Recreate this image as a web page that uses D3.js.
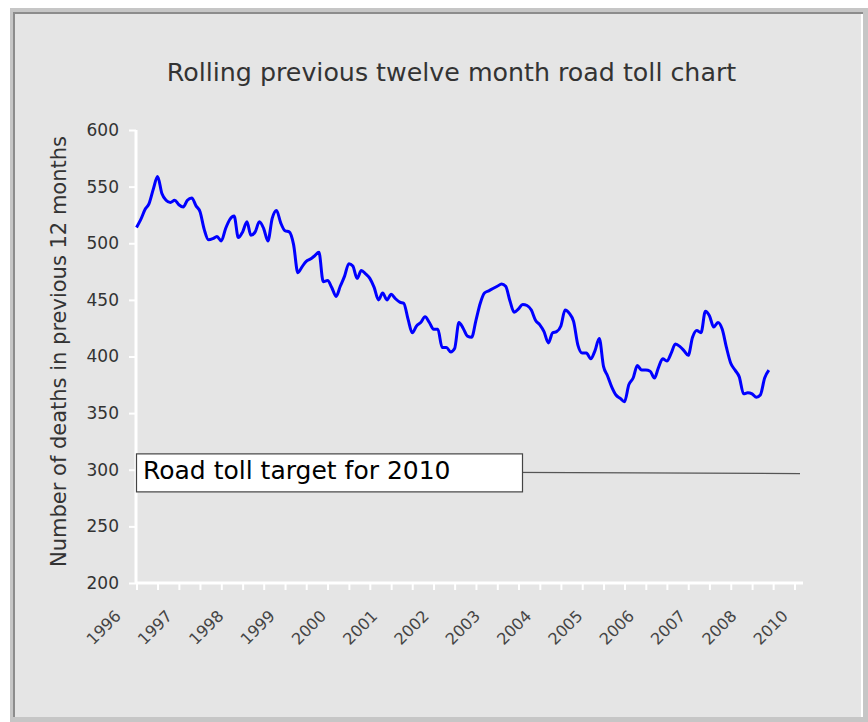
<!DOCTYPE html>
<html><head><meta charset="utf-8">
<script src="https://cdn.jsdelivr.net/npm/d3@7"></script>
<style>
body{margin:0;background:#fff}
svg{display:block}
text{font-family:"DejaVu Sans",sans-serif}
</style>
</head><body>
<svg id="chart" width="868" height="722"></svg>
<script>
// ---------- data ----------
const chartTitle = "Rolling previous twelve month road toll chart";
const yAxisTitle = "Number of deaths in previous 12 months";
const firstMonth = "1996-12";   // first rolling total
const axisEndMonth = "2010-01";
const rollingToll = [
  514,521,530,535,548,559,544,538,536,538,
  534,532,538,540,533,528,512,503,504,506,
  502,513,521,524,505,510,519,507,510,519,
  513,502,522,529,518,511,510,499,474,479,
  484,486,489,492,466,467,461,453,462,471,
  482,480,469,476,473,469,461,450,456,450,
  455,451,448,447,433,421,427,430,435,430,
  424,424,408,408,404,407,430,425,418,417,
  432,447,456,458,460,462,464,462,449,439,
  442,446,445,441,432,428,422,412,421,422,
  427,441,438,431,410,403,403,398,405,416,
  391,383,373,366,363,360,375,381,392,388,
  388,387,381,390,398,396,403,411,409,405,
  401,417,423,421,440,436,426,430,424,408,
  394,388,382,367,368,367,364,366,381,388
];
const yTicks = [200,250,300,350,400,450,500,550,600];
const xLabels = ["1996","1997","1998","1999","2000","2001","2002","2003","2004","2005","2006","2007","2008","2010"];
const minorTickStepMonths = 5;
const targetLabel = "Road toll target for 2010";
const targetValues = [299, 296.6];   // target line at start and end of the axis

// ---------- setup ----------
const svg = d3.select("#chart");
const parse = d3.timeParse("%Y-%m");
const t0 = parse(firstMonth), tEnd = parse(axisEndMonth);
const dates = rollingToll.map((v, i) => d3.timeMonth.offset(t0, i));

const x = d3.scaleTime().domain([t0, tEnd]).range([136.5, 803]);
const y = d3.scaleLinear().domain([200, 600]).range([583, 130]);
const xl = d3.scalePoint().domain(xLabels).range([122, 789]);

// frame
svg.append("rect").attr("x",10).attr("y",8).attr("width",858).attr("height",714).attr("fill","#c6c6c6");
svg.append("rect").attr("x",13).attr("y",12).attr("width",850).attr("height",705).attr("fill","#8c8c8c");
svg.append("rect").attr("x",15).attr("y",14).attr("width",848).attr("height",703).attr("fill","#e5e5e5");
svg.append("rect").attr("x",861).attr("y",14).attr("width",2).attr("height",703).attr("fill","#ffffff");

// title
svg.append("text").attr("x",451.5).attr("y",81).attr("text-anchor","middle")
  .attr("font-size",25.3).attr("fill","#333").text(chartTitle);

// y axis title
svg.append("text").attr("transform","translate(66,351.5) rotate(-90)").attr("text-anchor","middle")
  .attr("font-size",21).attr("fill","#333").text(yAxisTitle);

// y axis
const gy = svg.append("g").attr("transform","translate(136,0)")
  .call(d3.axisLeft(y).tickValues(yTicks).tickSize(7).tickPadding(10).tickFormat(d3.format("d")));
gy.select(".domain").attr("stroke","#fff").attr("stroke-width",3).attr("d",`M0,${y(600)}V${y(200)}`);
gy.selectAll(".tick line").attr("stroke","#fff").attr("stroke-width",2);
gy.selectAll(".tick text").attr("font-family","DejaVu Sans").attr("font-size",17).attr("fill","#333");

// x axis (minor ticks)
const minorTicks = d3.range(0, d3.timeMonth.count(t0, tEnd), minorTickStepMonths).map(i => d3.timeMonth.offset(t0, i));
const gx = svg.append("g").attr("transform",`translate(0,${y(200)})`)
  .call(d3.axisBottom(x).tickValues(minorTicks).tickSize(7).tickFormat(""));
gx.select(".domain").attr("stroke","#fff").attr("stroke-width",3).attr("d",`M136,0H803`);
gx.selectAll(".tick line").attr("stroke","#fff").attr("stroke-width",2);

// x labels
svg.append("g").selectAll("text").data(xLabels).join("text")
  .attr("transform", d => `translate(${xl(d)},617) rotate(-45)`)
  .attr("text-anchor","end").attr("font-size",16).attr("fill","#444").text(d => d);

// target line
svg.append("line")
  .attr("x1", x(t0)).attr("y1", y(targetValues[0]))
  .attr("x2", x(tEnd) - 3).attr("y2", y(targetValues[1]))
  .attr("stroke","#555").attr("stroke-width",1.2);

// data line
const line = d3.line().x((d, i) => x(dates[i])).y(d => y(d)).curve(d3.curveMonotoneX);
svg.append("path").datum(rollingToll).attr("d", line)
  .attr("fill","none").attr("stroke","#0000ff").attr("stroke-width",3).attr("stroke-linejoin","round");

// target annotation box
const by = y(targetValues[0]);
svg.append("rect").attr("x",136.5).attr("y",by - 17).attr("width",386).attr("height",38)
  .attr("fill","#fff").attr("stroke","#444").attr("stroke-width",1.2);
svg.append("text").attr("x",143).attr("y",by + 8.5).attr("font-size",25).attr("fill","#000").text(targetLabel);
</script>
</body></html>
